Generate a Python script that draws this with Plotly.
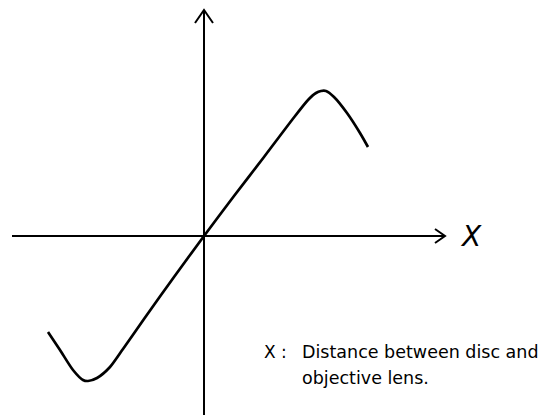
import plotly.graph_objects as go

# Focus-error style S-curve (X: disc-lens distance, arbitrary units, origin at axis crossing)
curve_x = [-156, -144, -131, -121, -116, -107, -94, -81, -60, -30, 0, 30, 60, 88, 104, 112, 117, 122, 130, 143, 156, 164]
curve_y = [-96, -114, -134, -144, -145, -142, -131, -113, -83, -41, 0, 40, 79, 116, 136, 143, 145, 145, 139, 123, 103, 89]

# Axis extents (same units)
x_axis_span = [-192, 241]
y_axis_span = [-179, 226]

axis_label = "X"
note_key = "X :"
note_lines = ["Distance between disc and", "objective lens."]

fig = go.Figure()

# horizontal axis
fig.add_trace(go.Scatter(x=x_axis_span, y=[0, 0], mode="lines",
                         line=dict(color="black", width=2), hoverinfo="skip"))
# vertical axis
fig.add_trace(go.Scatter(x=[0, 0], y=y_axis_span, mode="lines",
                         line=dict(color="black", width=2), hoverinfo="skip"))
# arrowheads (open V)
hx = x_axis_span[1]
fig.add_trace(go.Scatter(x=[hx - 10, hx, hx - 10], y=[7, 0, -7], mode="lines",
                         line=dict(color="black", width=2), hoverinfo="skip"))
vy = y_axis_span[1]
fig.add_trace(go.Scatter(x=[-9, 0, 9], y=[vy - 13, vy, vy - 13], mode="lines",
                         line=dict(color="black", width=2), hoverinfo="skip"))

# the curve
fig.add_trace(go.Scatter(x=curve_x, y=curve_y, mode="lines",
                         line=dict(color="black", width=2.7, shape="spline", smoothing=0.7),
                         hoverinfo="skip"))

# axis label
fig.add_annotation(x=hx + 26, y=0, text=axis_label, showarrow=False,
                   font=dict(family="DejaVu Sans", size=28, color="black", style="italic"),
                   xanchor="center", yanchor="middle")

# note text
fig.add_annotation(x=58, y=-116, text=note_key, showarrow=False, xanchor="left", yanchor="middle",
                   font=dict(family="DejaVu Sans", size=17, color="black"))
fig.add_annotation(x=96, y=-116, text=note_lines[0], showarrow=False, xanchor="left", yanchor="middle",
                   font=dict(family="DejaVu Sans", size=17.5, color="black"))
fig.add_annotation(x=96, y=-142, text=note_lines[1], showarrow=False, xanchor="left", yanchor="middle",
                   font=dict(family="DejaVu Sans", size=17.5, color="black"))

# page body has an 8px margin: shift ranges so the origin lands at page pixel (204, 236)
fig.update_layout(
    width=560, height=415,
    margin=dict(l=0, r=0, t=0, b=0),
    paper_bgcolor="white", plot_bgcolor="white",
    showlegend=False,
    xaxis=dict(range=[-196, 364], visible=False, fixedrange=True),
    yaxis=dict(range=[-187, 228], visible=False, fixedrange=True),
)

fig.write_html("out.html")
